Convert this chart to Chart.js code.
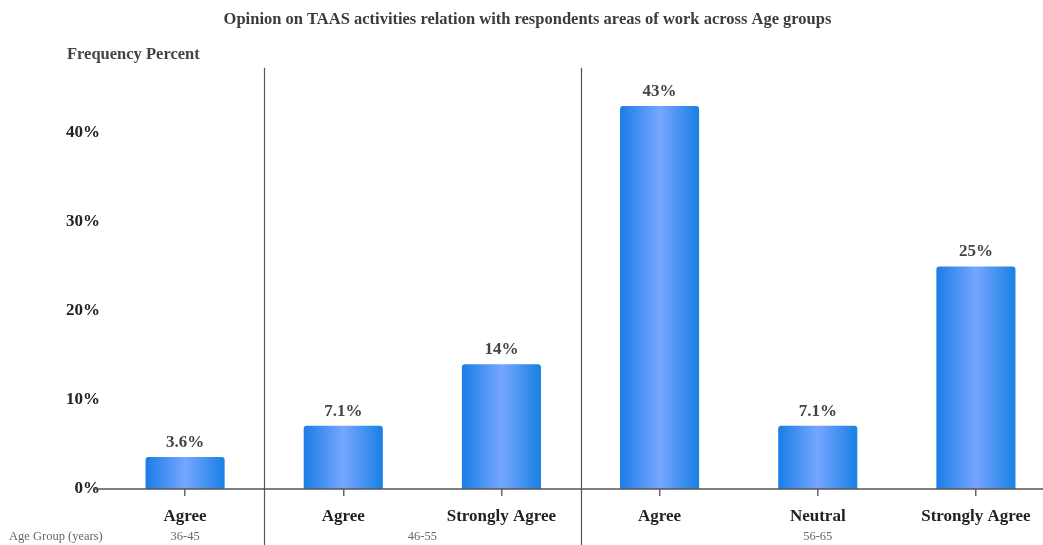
<!DOCTYPE html>
<html>
<head>
<meta charset="utf-8">
<script src="https://cdn.jsdelivr.net/npm/chart.js@4/dist/chart.umd.min.js"></script>
<style>
  html, body { margin: 0; padding: 0; background: #fff; overflow: hidden; }
  #wrap { width: 1055px; height: 545px; }
</style>
</head>
<body>
<div id="wrap"><canvas id="opinionChart"></canvas></div>
<script>
// responses per bar (x axis), in age-group order
const responses = ['Agree', 'Agree', 'Strongly Agree', 'Agree', 'Neutral', 'Strongly Agree'];
const percents = [3.6, 7.1, 14, 43, 7.1, 25];
// age groups: label + how many bars belong to it
const ageGroups = ['36-45', '46-55', '56-65'];
const groupSizes = [1, 2, 3];
const yTicks = [0, 10, 20, 30, 40];

const SERIF = '"Liberation Serif", "DejaVu Serif", serif';

function barGradient(ctx) {
    const chart = ctx.chart;
    const xs = chart.scales.x;
    if (!chart.chartArea || !xs) return '#3b8cf0';
    const cx = xs.getPixelForValue(ctx.dataIndex);
    const half = (xs.width / percents.length) * 0.25;
    const g = chart.ctx.createLinearGradient(cx - half, 0, cx + half, 0);
    g.addColorStop(0, '#1a7de6');
    g.addColorStop(0.5, '#76a6ff');
    g.addColorStop(1, '#1880e4');
    return g;
}

// extra drawing: baseline, group dividers, value labels, age group row
const decorations = {
    id: 'decorations',
    afterDatasetsDraw(chart) {
        const { ctx, chartArea, scales } = chart;
        const xs = scales.x, ys = scales.y;
        const step = xs.width / percents.length;
        const base = ys.getPixelForValue(0);
        ctx.save();

        // baseline
        ctx.strokeStyle = '#555';
        ctx.lineWidth = 1.5;
        ctx.beginPath();
        ctx.moveTo(93, base);
        ctx.lineTo(chart.width, base);
        ctx.stroke();

        // group dividers
        ctx.lineWidth = 1.2;
        let idx = 0;
        groupSizes.forEach((n, i) => {
            idx += n;
            if (i < groupSizes.length - 1) {
                const x = Math.round(chartArea.left + idx * step) + 0.5;
                ctx.beginPath();
                ctx.moveTo(x, chartArea.top);
                ctx.lineTo(x, chart.height);
                ctx.stroke();
            }
        });

        // value labels
        ctx.fillStyle = '#444';
        ctx.font = 'bold 17px ' + SERIF;
        ctx.textAlign = 'center';
        ctx.textBaseline = 'bottom';
        const meta = chart.getDatasetMeta(0);
        meta.data.forEach((bar, i) => {
            ctx.fillText(percents[i] + '%', bar.x, bar.y - 6);
        });

        // age group row
        ctx.fillStyle = '#666';
        ctx.font = '12.5px ' + SERIF;
        ctx.textBaseline = 'middle';
        ctx.textAlign = 'left';
        ctx.fillText('Age Group (years)', 9, 537);
        ctx.textAlign = 'center';
        let start = 0;
        groupSizes.forEach((n, i) => {
            const mid = chartArea.left + (start + n / 2) * step;
            ctx.fillText(ageGroups[i], mid, 537);
            start += n;
        });

        // y axis caption
        ctx.fillStyle = '#444';
        ctx.font = 'bold 16.5px ' + SERIF;
        ctx.textAlign = 'left';
        ctx.fillText('Frequency Percent', 67, 55);
        ctx.restore();
    }
};

new Chart(document.getElementById('opinionChart'), {
    type: 'bar',
    data: {
        labels: responses,
        datasets: [{
            data: percents,
            backgroundColor: barGradient,
            borderRadius: { topLeft: 3, topRight: 3 },
            borderSkipped: 'start',
            categoryPercentage: 1,
            barPercentage: 0.5
        }]
    },
    options: {
        responsive: true,
        maintainAspectRatio: false,
        animation: false,
        plugins: {
            legend: { display: false },
            tooltip: { enabled: false },
            title: {
                display: true,
                text: 'Opinion on TAAS activities relation with respondents areas of work across Age groups',
                color: '#3c3c3c',
                font: { family: SERIF, size: 16.5, weight: 'bold' },
                padding: { top: 10, bottom: 38 }
            }
        },
        scales: {
            x: {
                grid: {
                    offset: false,
                    drawOnChartArea: false,
                    drawTicks: true,
                    tickLength: 7,
                    color: '#666',
                    lineWidth: 1.5
                },
                border: { display: false },
                ticks: {
                    color: '#222',
                    padding: 10,
                    font: { family: SERIF, size: 17, weight: 'bold' }
                },
                afterFit(scale) { scale.height = 56; }
            },
            y: {
                min: 0,
                max: 47.3,
                grid: { display: false, drawTicks: false, tickLength: 0 },
                border: { display: false },
                afterBuildTicks(scale) {
                    scale.ticks = yTicks.map(v => ({ value: v }));
                },
                ticks: {
                    color: '#222',
                    padding: 6,
                    font: { family: SERIF, size: 17, weight: 'bold' },
                    callback: v => v + '%'
                },
                afterFit(scale) { scale.width = 106; }
            }
        }
    },
    plugins: [decorations]
});
</script>
</body>
</html>
